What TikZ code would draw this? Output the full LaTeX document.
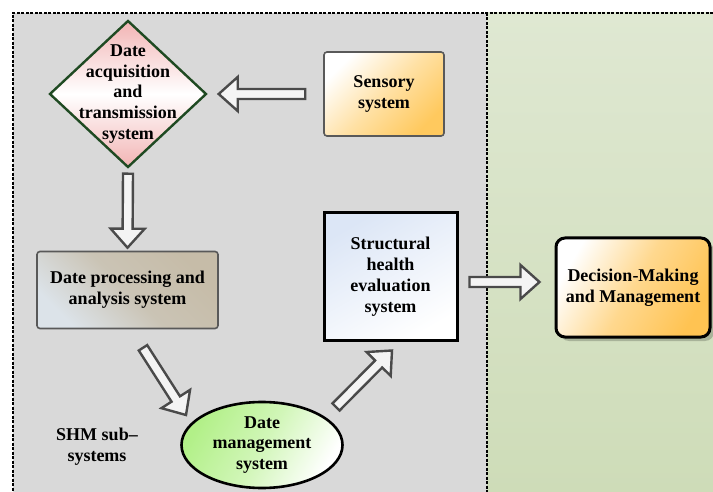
\documentclass[tikz,border=0pt]{standalone}
\usepackage{fontspec}
\setmainfont{Liberation Serif}
\usepackage{tikz}
\usetikzlibrary{calc,shapes.geometric,shadows}
\definecolor{panelgray}{HTML}{D9D9D9}
\definecolor{greentop}{HTML}{DFE8D2}
\definecolor{greenbot}{HTML}{CEDCB8}
\definecolor{sensorange}{HTML}{FFC95E}
\definecolor{pinkc}{HTML}{F2B4B4}
\definecolor{darkgreen}{HTML}{1F4A22}
\definecolor{proctan}{HTML}{C6BCA8}
\definecolor{proclight}{HTML}{DCE3E9}
\definecolor{shesblue}{HTML}{DCE6F6}
\definecolor{decorange}{HTML}{FFC352}
\definecolor{dmangreen}{HTML}{B2F088}
\definecolor{arrgray}{HTML}{4A4A4A}
\definecolor{arrfill}{HTML}{F4F4F4}
\tikzset{
  sysbox/.style={align=center,inner sep=0pt,font=\bfseries\fontsize{18}{20.8}\selectfont},
  softbox/.style={sysbox,rectangle,rounded corners=3pt,draw=gray!70!black,line width=1.6pt},
  hardbox/.style={sysbox,rectangle,draw=black,line width=3pt},
  panelline/.style={line width=1.2pt,dash pattern=on 3pt off 1.5pt},
  blockarr/.style={draw=arrgray,line width=2.4pt,fill=arrfill,
    to path={let \p1=(\tikztostart),\p2=(\tikztotarget) in
      ($(\p1)!5pt!90:(\p2)$) -- ($(\p2)!19pt!(\p1)!5pt!-90:(\p1)$)
      -- ($(\p2)!19pt!(\p1)!17pt!-90:(\p1)$) -- (\p2)
      -- ($(\p2)!19pt!(\p1)!17pt!90:(\p1)$) -- ($(\p2)!19pt!(\p1)!5pt!90:(\p1)$)
      -- ($(\p1)!5pt!-90:(\p2)$) -- cycle}}
}
\begin{document}
\begin{tikzpicture}[x=1pt,y=-1pt]
  \useasboundingbox (0,0) rectangle (713,492);
  % background panels
  \fill[panelgray] (13,13) rectangle (487,492);
  \shade[top color=greentop,bottom color=greenbot] (487,13) rectangle (713,492);
  \draw[panelline] (713,13) -- (13,13) -- (13,492);
  \draw[panelline] (487,13) -- (487,492);
  % sub-systems
  \node[sysbox,diamond,draw=darkgreen,line width=2.4pt,inner sep=-20pt,
    minimum width=157pt,minimum height=147pt,
    top color=pinkc,bottom color=pinkc,middle color=white] (acq) at (128,94)
    {Date\\acquisition\\and\\transmission\\system};
  \node[softbox,minimum width=120pt,minimum height=84pt,
    top color=white,bottom color=sensorange,middle color=sensorange!55!white,shading angle=45] (sens) at (384,94)
    {Sensory\\system};
  \node[softbox,minimum width=181pt,minimum height=77pt,
    top color=proctan,bottom color=proclight,middle color=proctan!80!proclight,shading angle=-45] (proc) at (127.5,290)
    {Date processing and\\analysis system};
  \node[sysbox,ellipse,draw=black,line width=2.6pt,inner ysep=-2pt,
    minimum width=161pt,minimum height=86pt,
    top color=dmangreen,bottom color=white,middle color=dmangreen!60!white,shading angle=60] (dman) at (262,445)
    {Date\\management\\system};
  \node[hardbox,minimum width=133pt,minimum height=127pt,
    top color=shesblue,bottom color=white,shading angle=30] (shes) at (390.5,276.5)
    {Structural\\health\\evaluation\\system};
  \node[hardbox,rounded corners=9pt,minimum width=154pt,minimum height=99pt,
    top color=white,bottom color=decorange,middle color=decorange!65!white,shading angle=60,
    drop shadow={shadow xshift=4pt,shadow yshift=-4pt,fill=black,opacity=.2}] (dec) at (633,287.5)
    {Decision-Making\\and Management};
  \node[sysbox] (shm) at (97,447) {SHM sub--\\systems};
  % block arrows
  \draw[blockarr] ([xshift=-18pt]sens.west) to ([xshift=11pt]acq.east);
  \draw[blockarr] ([yshift=-5pt]acq.south) to ([yshift=3pt]proc.north);
  \draw[blockarr] ([xshift=15.5pt,yshift=-18.5pt]proc.south) to ([xshift=-76pt,yshift=30pt]dman.center);
  \draw[blockarr] ([xshift=74pt,yshift=38pt]dman.center) to ([xshift=1.5pt,yshift=-9pt]shes.south);
  \draw[blockarr] ([xshift=11pt,yshift=-5.5pt]shes.east) to ([xshift=-15pt,yshift=5.5pt]dec.west);
\end{tikzpicture}
\end{document}
